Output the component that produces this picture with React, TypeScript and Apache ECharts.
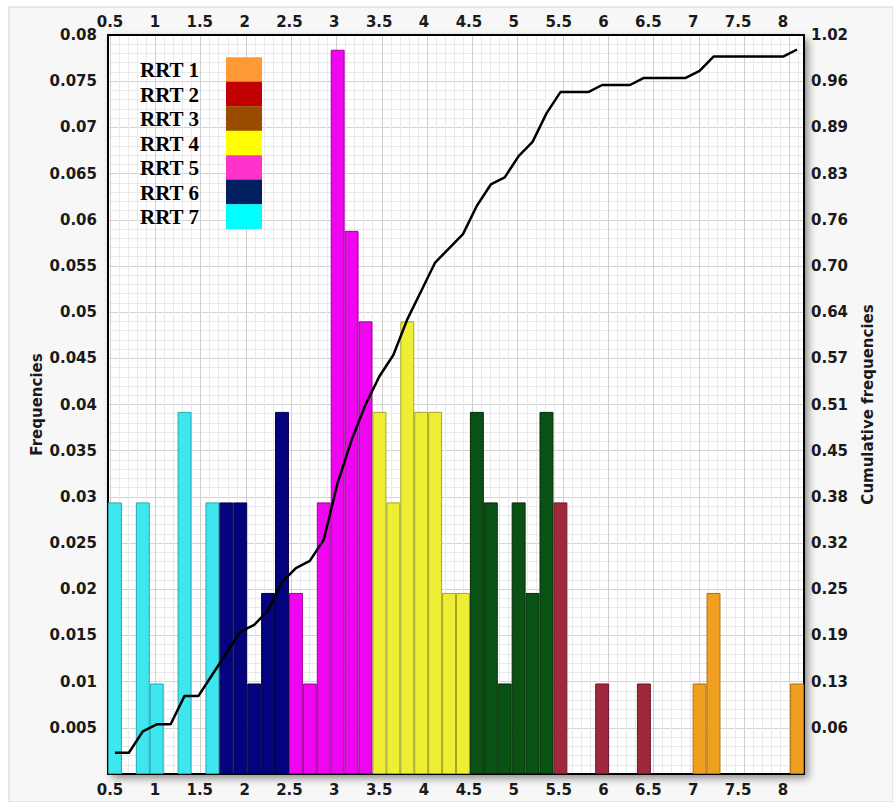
import { useEffect, useRef } from 'react';
import * as echarts from 'echarts';

// ---- data ----
const binCenters = [
  '0.555', '0.710', '0.865', '1.020', '1.175', '1.331', '1.486', '1.641', '1.796', '1.951',
  '2.106', '2.261', '2.417', '2.572', '2.727', '2.882', '3.037', '3.192', '3.347', '3.502',
  '3.658', '3.813', '3.968', '4.123', '4.278', '4.433', '4.588', '4.743', '4.899', '5.054',
  '5.209', '5.364', '5.519', '5.674', '5.829', '5.985', '6.140', '6.295', '6.450', '6.605',
  '6.760', '6.915', '7.071', '7.226', '7.381', '7.536', '7.691', '7.846', '8.002', '8.157',
];

const frequencies = [
  0.0294, 0, 0.0294, 0.0098, 0, 0.0392, 0, 0.0294, 0.0294, 0.0294,
  0.0098, 0.0196, 0.0392, 0.0196, 0.0098, 0.0294, 0.0784, 0.0588, 0.049, 0.0392,
  0.0294, 0.049, 0.0392, 0.0392, 0.0196, 0.0196, 0.0392, 0.0294, 0.0098, 0.0294,
  0.0196, 0.0392, 0.0294, 0, 0, 0.0098, 0, 0, 0.0098, 0,
  0, 0, 0.0098, 0.0196, 0, 0, 0, 0, 0, 0.0098,
];

const binGroups = [
  'cyan', 'cyan', 'cyan', 'cyan', 'cyan', 'cyan', 'cyan', 'cyan', 'navy', 'navy',
  'navy', 'navy', 'navy', 'magenta', 'magenta', 'magenta', 'magenta', 'magenta', 'magenta', 'yellow',
  'yellow', 'yellow', 'yellow', 'yellow', 'yellow', 'yellow', 'green', 'green', 'green', 'green',
  'green', 'green', 'maroon', 'maroon', 'maroon', 'maroon', 'maroon', 'maroon', 'maroon', 'orange',
  'orange', 'orange', 'orange', 'orange', 'orange', 'orange', 'orange', 'orange', 'orange', 'orange',
];

const cumulative = [
  0.0294, 0.0294, 0.0588, 0.0686, 0.0686, 0.1078, 0.1078, 0.1373, 0.1667, 0.1961,
  0.2059, 0.2255, 0.2647, 0.2843, 0.2941, 0.3235, 0.402, 0.4608, 0.5098, 0.549,
  0.5784, 0.6275, 0.6667, 0.7059, 0.7255, 0.7451, 0.7843, 0.8137, 0.8235, 0.8529,
  0.8725, 0.9118, 0.9412, 0.9412, 0.9412, 0.951, 0.951, 0.951, 0.9608, 0.9608,
  0.9608, 0.9608, 0.9706, 0.9902, 0.9902, 0.9902, 0.9902, 0.9902, 0.9902, 1.0,
];

const xTickValues = [0.5, 1, 1.5, 2, 2.5, 3, 3.5, 4, 4.5, 5, 5.5, 6, 6.5, 7, 7.5, 8];
const leftTickLabels = [
  '', '0.005', '0.01', '0.015', '0.02', '0.025', '0.03', '0.035', '0.04',
  '0.045', '0.05', '0.055', '0.06', '0.065', '0.07', '0.075', '0.08',
];
const rightTickLabels = [
  '', '0.06', '0.13', '0.19', '0.25', '0.32', '0.38', '0.45', '0.51',
  '0.57', '0.64', '0.70', '0.76', '0.83', '0.89', '0.96', '1.02',
];

const legendNames = ['RRT 1', 'RRT 2', 'RRT 3', 'RRT 4', 'RRT 5', 'RRT 6', 'RRT 7'];
const legendColors = ['#FF9933', '#C00000', '#994C00', '#FFFF00', '#FF33CC', '#002060', '#00FFFF'];

const groupColors: Record<string, { fill: string; border: string }> = {
  cyan: { fill: '#3EE7EF', border: '#2AA7AE' },
  navy: { fill: '#03037E', border: '#000048' },
  magenta: { fill: '#EF05EF', border: '#A000A0' },
  yellow: { fill: '#EEEE35', border: '#A6A626' },
  green: { fill: '#0A5114', border: '#042A08' },
  maroon: { fill: '#A0283D', border: '#6C1828' },
  orange: { fill: '#EFA020', border: '#B07012' },
};

// axis extents / layout
const X_MIN = 0.4777;
const X_MAX = 8.234;
const LEFT_STEP = 0.005;
const RIGHT_STEP = 0.06375;

export default function App() {
  const ref = useRef<HTMLDivElement>(null);

  useEffect(() => {
    if (!ref.current) return;
    const chart = echarts.init(ref.current, null, { renderer: 'svg' });

    const labelStyle = {
      fontFamily: 'DejaVu Sans',
      fontWeight: 'bold' as const,
      fontSize: 15,
      color: '#1a1a1a',
    };
    const borderLine = { show: true, onZero: false, lineStyle: { color: '#000', width: 2 } };

    const legendGraphics: any[] = [];
    legendNames.forEach((name, i) => {
      legendGraphics.push({
        type: 'rect',
        z: 100,
        shape: { x: 226, y: 57.3 + i * 24.5, width: 36, height: 24.6 },
        style: { fill: legendColors[i] },
      });
      legendGraphics.push({
        type: 'text',
        z: 100,
        x: 140,
        y: 70 + i * 24.5,
        style: {
          text: name,
          font: 'bold 21px "Liberation Serif", "Times New Roman", serif',
          fill: '#000',
          align: 'left',
          verticalAlign: 'middle',
        },
      });
    });

    const option: any = {
      animation: false,
      backgroundColor: '#ffffff',
      grid: [
        { left: 108, top: 35, right: 89, bottom: 28, containLabel: false },
        { left: 110, top: 35, right: 89, bottom: 28, containLabel: false },
      ],
      xAxis: [
        {
          type: 'category',
          gridIndex: 0,
          position: 'bottom',
          data: binCenters,
          boundaryGap: true,
          axisLine: { show: false },
          axisTick: { show: false },
          axisLabel: { show: false },
          splitLine: { show: false },
        },
        {
          type: 'value',
          gridIndex: 0,
          position: 'bottom',
          min: X_MIN,
          max: X_MAX,
          axisLine: borderLine,
          axisTick: { show: false },
          splitLine: { show: false },
          axisLabel: {
            ...labelStyle,
            margin: 8,
            customValues: xTickValues,
            formatter: (v: number) => String(v),
          },
        },
        {
          type: 'value',
          gridIndex: 0,
          position: 'top',
          min: X_MIN,
          max: X_MAX,
          axisLine: borderLine,
          axisTick: { show: false },
          splitLine: { show: false },
          axisLabel: {
            ...labelStyle,
            margin: 6,
            customValues: xTickValues,
            formatter: (v: number) => String(v),
          },
        },
        {
          type: 'value',
          gridIndex: 1,
          position: 'bottom',
          min: 0,
          max: 15.32,
          interval: 1,
          axisLine: { show: false },
          axisTick: { show: false },
          axisLabel: { show: false },
          splitLine: { show: true, lineStyle: { color: '#cfcfcf', width: 1 } },
          minorTick: { show: false, splitNumber: 5 },
          minorSplitLine: { show: true, lineStyle: { color: '#eaeaea', width: 1 } },
        },
      ],
      yAxis: [
        {
          type: 'value',
          gridIndex: 0,
          position: 'left',
          min: 0,
          max: 0.08,
          interval: LEFT_STEP,
          name: 'Frequencies',
          nameLocation: 'middle',
          nameRotate: 90,
          nameGap: 64,
          nameMoveOverlap: false,
          nameTextStyle: { ...labelStyle, fontSize: 15 },
          axisLine: borderLine,
          axisTick: { show: false },
          axisLabel: {
            ...labelStyle,
            margin: 11,
            formatter: (v: number) => leftTickLabels[Math.round(v / LEFT_STEP)] ?? '',
          },
          splitLine: { show: true, lineStyle: { color: '#d3d3d3', width: 1 } },
          minorTick: { show: false, splitNumber: 5 },
          minorSplitLine: { show: true, lineStyle: { color: '#eaeaea', width: 1 } },
        },
        {
          type: 'value',
          gridIndex: 0,
          position: 'right',
          min: 0,
          max: 1.02,
          interval: RIGHT_STEP,
          name: 'Cumulative frequencies',
          nameLocation: 'middle',
          nameRotate: 90,
          nameGap: 56,
          nameTextStyle: { ...labelStyle, fontSize: 15 },
          axisLine: borderLine,
          axisTick: { show: false },
          axisLabel: {
            ...labelStyle,
            margin: 7,
            formatter: (v: number) => rightTickLabels[Math.round(v / RIGHT_STEP)] ?? '',
          },
          splitLine: { show: false },
        },
        {
          type: 'value',
          gridIndex: 1,
          show: true,
          min: 0,
          max: 1,
          axisLine: { show: false },
          axisTick: { show: false },
          axisLabel: { show: false },
          splitLine: { show: false },
        },
      ],
      series: [
        {
          type: 'bar',
          name: 'Frequencies',
          xAxisIndex: 0,
          yAxisIndex: 0,
          barWidth: '100%',
          barGap: '0%',
          z: 3,
          data: frequencies.map((v, i) => ({
            value: v,
            itemStyle: {
              color: groupColors[binGroups[i]].fill,
              borderColor: groupColors[binGroups[i]].border,
              borderWidth: v > 0 ? 1 : 0,
              opacity: v > 0 ? 1 : 0,
            },
          })),
        },
        {
          type: 'line',
          name: 'Cumulative frequencies',
          xAxisIndex: 0,
          yAxisIndex: 1,
          data: cumulative,
          symbol: 'none',
          showSymbol: false,
          lineStyle: { color: '#000', width: 2.5 },
          z: 5,
        },
      ],
      graphic: [
        {
          type: 'rect',
          z: -20,
          silent: true,
          shape: { x: 9, y: 7, width: 884, height: 795 },
          style: { fill: '#f7f7f7', stroke: '#d4d4d4', lineWidth: 1 },
        },
        {
          type: 'rect',
          z: -10,
          silent: true,
          shape: { x: 108, y: 35, width: 696, height: 739 },
          style: {
            fill: '#ffffff',
            shadowBlur: 8,
            shadowOffsetX: 4,
            shadowOffsetY: 4,
            shadowColor: 'rgba(0,0,0,0.45)',
          },
        },
        ...legendGraphics,
      ],
    };

    chart.setOption(option);
    return () => chart.dispose();
  }, []);

  return (
    <div
      ref={ref}
      style={{ position: 'absolute', left: 0, top: 0, width: 893, height: 802 }}
    />
  );
}
